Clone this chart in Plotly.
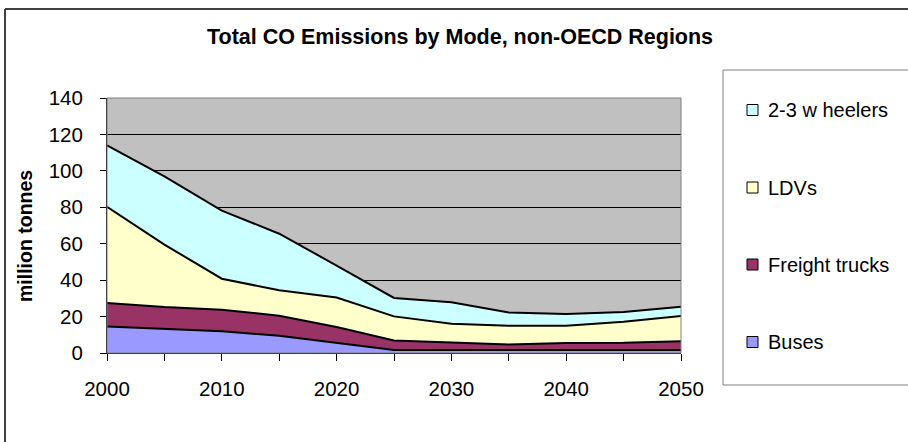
import plotly.graph_objects as go

years = [2000, 2005, 2010, 2015, 2020, 2025, 2030, 2035, 2040, 2045, 2050]
buses = [14.6, 13.2, 11.9, 9.5, 5.5, 1.6, 1.6, 1.6, 1.6, 1.6, 1.6]
freight = [12.9, 12.1, 11.9, 11.0, 8.8, 5.3, 4.2, 3.0, 3.9, 4.0, 4.8]
ldvs = [52.7, 34.2, 17.0, 13.9, 16.2, 13.2, 10.3, 10.4, 9.5, 11.6, 13.9]
wheelers = [33.8, 37.5, 37.4, 31.1, 17.5, 10.1, 11.7, 7.3, 6.4, 5.3, 5.1]

series_names = ["Buses", "Freight trucks", "LDVs", "2-3 w heelers"]
series_vals = [buses, freight, ldvs, wheelers]
series_colors = ["#9999FF", "#993366", "#FFFFCC", "#CCFFFF"]

title_text = "Total CO Emissions by Mode, non-OECD Regions"
ytitle_text = "million tonnes"
y_ticks = [0, 20, 40, 60, 80, 100, 120, 140]
x_ticks = [2000, 2010, 2020, 2030, 2040, 2050]

W, H = 908, 442
L, R, T, B = 107, 227, 98, 89
PW, PH = W - L - R, H - T - B


def px(x):
    return (x - L) / PW


def py(y):
    return (H - B - y) / PH


fig = go.Figure()
for name, vals, col in zip(series_names, series_vals, series_colors):
    fig.add_trace(go.Scatter(
        x=years, y=vals, name=name, mode="lines", stackgroup="one",
        line=dict(color="#000000", width=2), fillcolor=col,
        showlegend=False, hoverinfo="x+y+name",
    ))

FONT = "Arial, Liberation Sans, sans-serif"

shapes = []
annotations = []

# outer chart border (left and top visible)
shapes.append(dict(type="line", xref="paper", yref="paper",
                   x0=px(5), x1=px(5), y0=py(9), y1=py(H + 5),
                   line=dict(color="#404040", width=2)))
shapes.append(dict(type="line", xref="paper", yref="paper",
                   x0=px(5), x1=px(W + 5), y0=py(9), y1=py(9),
                   line=dict(color="#404040", width=2)))
# plot area border top/right
shapes.append(dict(type="rect", xref="paper", yref="paper",
                   x0=0, x1=1, y0=0, y1=1,
                   line=dict(color="#808080", width=1), layer="above"))

# legend box
shapes.append(dict(type="rect", xref="paper", yref="paper",
                   x0=px(723), x1=px(W + 10), y0=py(385), y1=py(70),
                   line=dict(color="#808080", width=1), fillcolor="rgba(0,0,0,0)"))
leg_y = [110, 187.5, 264.5, 342]
for name, col, yy in zip(series_names[::-1], series_colors[::-1], leg_y):
    shapes.append(dict(type="rect", xref="paper", yref="paper",
                       x0=px(747), x1=px(758), y0=py(yy + 5.5), y1=py(yy - 5.5),
                       line=dict(color="#000000", width=1), fillcolor=col))
    annotations.append(dict(text=name, xref="paper", yref="paper",
                            x=px(766), y=py(yy), xanchor="left", yanchor="middle",
                            showarrow=False, font=dict(family=FONT, size=20, color="#000000")))

annotations.append(dict(text="<b>" + title_text + "</b>", xref="paper", yref="paper",
                        x=px(460), y=py(37), xanchor="center", yanchor="middle",
                        showarrow=False, font=dict(family=FONT, size=21.5, color="#000000")))
annotations.append(dict(text="<b>" + ytitle_text + "</b>", xref="paper", yref="paper",
                        x=px(25), y=py(236), xanchor="center", yanchor="middle",
                        textangle=-90, showarrow=False,
                        font=dict(family=FONT, size=19.5, color="#000000")))

fig.update_layout(
    width=W, height=H,
    margin=dict(l=L, r=R, t=T, b=B, pad=0),
    paper_bgcolor="#FFFFFF", plot_bgcolor="#C0C0C0",
    shapes=shapes, annotations=annotations,
    showlegend=False,
    font=dict(family=FONT, color="#000000"),
)
fig.update_xaxes(
    range=[2000, 2050], tickvals=x_ticks, ticktext=[str(v) for v in x_ticks],
    showgrid=False, zeroline=False, showline=True, linecolor="#000000", linewidth=1,
    ticks="outside", ticklen=7, tickcolor="#000000", tickwidth=1,
    minor=dict(dtick=5, tick0=2000, ticks="outside", ticklen=7, tickcolor="#000000", showgrid=False),
    tickfont=dict(family=FONT, size=20.5, color="#000000"),
    ticklabelstandoff=10,
)
fig.update_yaxes(
    range=[0, 140], tickvals=y_ticks,
    showgrid=True, gridcolor="#000000", gridwidth=1, zeroline=False,
    showline=True, linecolor="#000000", linewidth=1,
    ticks="outside", ticklen=6, tickcolor="#000000", tickwidth=1,
    tickfont=dict(family=FONT, size=20.5, color="#000000"),
    ticklabelstandoff=13,
)

fig.write_html("out.html")
